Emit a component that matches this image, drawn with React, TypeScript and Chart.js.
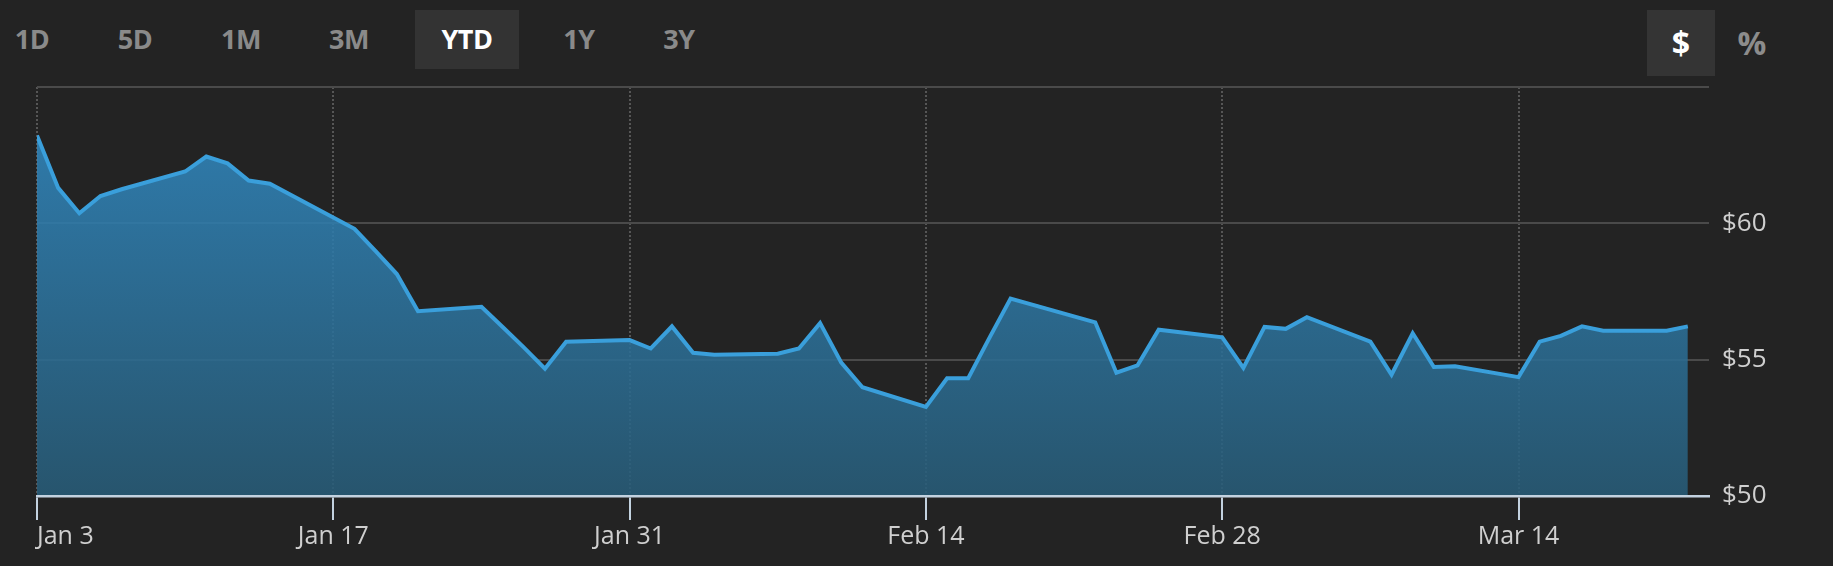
import React, { useEffect, useRef } from "react";
import { Chart, registerables } from "chart.js";

Chart.register(...registerables);

// ---- data ----
const dates = [
  "2022-01-03", "2022-01-04", "2022-01-05", "2022-01-06", "2022-01-07",
  "2022-01-10", "2022-01-11", "2022-01-12", "2022-01-13", "2022-01-14",
  "2022-01-18", "2022-01-19", "2022-01-20", "2022-01-21",
  "2022-01-24", "2022-01-25", "2022-01-26", "2022-01-27", "2022-01-28",
  "2022-01-31", "2022-02-01", "2022-02-02", "2022-02-03", "2022-02-04",
  "2022-02-07", "2022-02-08", "2022-02-09", "2022-02-10", "2022-02-11",
  "2022-02-14", "2022-02-15", "2022-02-16", "2022-02-17", "2022-02-18",
  "2022-02-22", "2022-02-23", "2022-02-24", "2022-02-25",
  "2022-02-28", "2022-03-01", "2022-03-02", "2022-03-03", "2022-03-04",
  "2022-03-07", "2022-03-08", "2022-03-09", "2022-03-10", "2022-03-11",
  "2022-03-14", "2022-03-15", "2022-03-16", "2022-03-17", "2022-03-18",
  "2022-03-21", "2022-03-22",
];

const prices = [
  63.22, 61.3, 60.37, 61.0, 61.25,
  61.9, 62.45, 62.2, 61.57, 61.45,
  59.8, 58.98, 58.14, 56.78,
  56.94, 56.2, 55.45, 54.67, 55.66,
  55.72, 55.41, 56.22, 55.25, 55.18,
  55.22, 55.41, 56.34, 54.89, 53.99,
  53.27, 54.32, 54.32, 55.8, 57.24,
  56.37, 54.52, 54.79, 56.1,
  55.82, 54.7, 56.2, 56.13, 56.56,
  55.66, 54.45, 55.97, 54.73, 54.76,
  54.36, 55.66, 55.87, 56.22, 56.06,
  56.06, 56.22,
];

const xRange = ["2022-01-03", "2022-03-23"];
// the last entry (range end) carries no label and no visible mark
const xTickDates = ["2022-01-03", "2022-01-17", "2022-01-31", "2022-02-14", "2022-02-28", "2022-03-14", "2022-03-23"];
const xTickLabels = ["Jan 3", "Jan 17", "Jan 31", "Feb 14", "Feb 28", "Mar 14", ""];

const yTicks = [50, 55, 60, 65];
const yTickLabels = ["$50", "$55", "$60", ""];

const ranges = ["1D", "5D", "1M", "3M", "YTD", "1Y", "3Y"];
const rangeCenters = [32, 135, 241, 349, 467, 579, 679];
const activeRange = "YTD";
const units = ["$", "%"];
const unitCenters = [1681, 1752];
const activeUnit = "$";

const DAY = 86400000;
const dayOffset = (iso: string) =>
  (Date.parse(iso + "T00:00:00Z") - Date.parse(xRange[0] + "T00:00:00Z")) / DAY;

const BG = "#232323";
const FONT = "'Open Sans', 'DejaVu Sans', sans-serif";
const AXIS = "#c3d2e0";

export default function App() {
  const canvasRef = useRef<HTMLCanvasElement | null>(null);

  useEffect(() => {
    const canvas = canvasRef.current;
    if (!canvas) return;
    const points = dates.map((d, i) => ({ x: dayOffset(d), y: prices[i] }));
    const lastTick = xTickDates.length - 1;

    const chart = new Chart(canvas, {
      type: "line",
      data: {
        datasets: [
          {
            data: points,
            borderColor: "#3a9fdb",
            borderWidth: 4,
            pointRadius: 0,
            tension: 0,
            fill: "start",
            backgroundColor: (ctx: any) => {
              const { chart } = ctx;
              const area = chart.chartArea;
              if (!area) return "rgba(46,122,168,0.9)";
              const g = chart.ctx.createLinearGradient(0, area.top, 0, area.bottom);
              g.addColorStop(0, "rgba(50,140,198,0.88)");
              g.addColorStop(1, "rgba(40,92,120,0.88)");
              return g;
            },
          },
        ],
      },
      options: {
        animation: false,
        responsive: false,
        events: [],
        layout: { padding: { left: 37, top: 7, right: 0, bottom: 0 } },
        plugins: { legend: { display: false }, tooltip: { enabled: false } },
        scales: {
          x: {
            type: "linear",
            min: dayOffset(xRange[0]),
            max: dayOffset(xRange[1]),
            afterFit: (scale: any) => {
              scale.height = 70;
              scale.paddingLeft = 0;
              scale.paddingRight = 0;
            },
            afterBuildTicks: (scale: any) => {
              scale.ticks = xTickDates.map((d) => ({ value: dayOffset(d) }));
            },
            grid: {
              color: (c: any) => (c.index === lastTick ? "rgba(0,0,0,0)" : "#565656"),
              lineWidth: 2,
              drawTicks: true,
              tickLength: 24,
              tickColor: (c: any) => (c.index === lastTick ? "rgba(0,0,0,0)" : AXIS),
              tickWidth: 2,
              tickBorderDash: [],
            },
            border: {
              display: true,
              color: AXIS,
              width: 2.5,
              dash: [2, 2],
              z: 1,
            },
            ticks: {
              align: "inner",
              autoSkip: false,
              maxRotation: 0,
              padding: 2,
              color: "#cfcfcf",
              font: { family: FONT, size: 25 },
              callback: (_v: any, i: number) => xTickLabels[i],
            },
          },
          y: {
            type: "linear",
            position: "right",
            min: yTicks[0],
            max: yTicks[yTicks.length - 1],
            afterFit: (scale: any) => {
              scale.width = 124;
              scale.paddingTop = 0;
              scale.paddingBottom = 0;
            },
            afterBuildTicks: (scale: any) => {
              scale.ticks = yTicks.map((v) => ({ value: v }));
            },
            grid: {
              color: "#4a4a4a",
              lineWidth: 2,
              drawTicks: false,
            },
            border: { display: false },
            ticks: {
              padding: 13,
              color: "#cfcfcf",
              font: { family: FONT, size: 26 },
              callback: (_v: any, i: number) => yTickLabels[i],
            },
          },
        },
      },
    } as any);

    return () => chart.destroy();
  }, []);

  return (
    <div
      style={{
        position: "fixed",
        left: 0,
        top: 0,
        width: 1833,
        height: 566,
        background: BG,
        overflow: "hidden",
        fontFamily: FONT,
      }}
    >
      {/* range selector */}
      <div
        style={{
          position: "absolute",
          left: 415,
          top: 10,
          width: 104,
          height: 59,
          background: "#333333",
        }}
      />
      {ranges.map((r, i) => (
        <div
          key={r}
          style={{
            position: "absolute",
            left: rangeCenters[i] - 50,
            width: 100,
            top: 18,
            height: 42,
            lineHeight: "42px",
            textAlign: "center",
            fontWeight: 700,
            fontSize: 27,
            letterSpacing: -0.5,
            color: r === activeRange ? "#ffffff" : "#8a8a8a",
          }}
        >
          {r}
        </div>
      ))}
      {/* unit selector */}
      <div
        style={{
          position: "absolute",
          left: 1647,
          top: 10,
          width: 68,
          height: 66,
          background: "#343434",
        }}
      />
      {units.map((u, i) => (
        <div
          key={u}
          style={{
            position: "absolute",
            left: unitCenters[i] - 40,
            width: 80,
            top: 20,
            height: 46,
            lineHeight: "46px",
            textAlign: "center",
            fontWeight: 700,
            fontSize: 32,
            color: u === activeUnit ? "#ffffff" : "#8c8c8c",
          }}
        >
          {u}
        </div>
      ))}
      <canvas
        ref={canvasRef}
        width={1833}
        height={486}
        style={{ position: "absolute", left: 0, top: 80, width: 1833, height: 486 }}
      />
    </div>
  );
}
